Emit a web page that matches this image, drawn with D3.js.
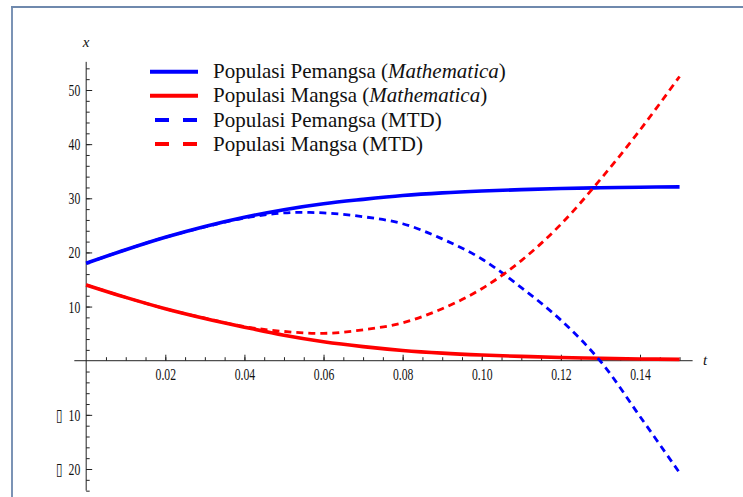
<!DOCTYPE html>
<html>
<head>
<meta charset="utf-8">
<script src="https://cdn.jsdelivr.net/npm/d3@7"></script>
<style>
  html, body { margin: 0; padding: 0; background: #fff; }
  svg { display: block; }
  text { font-family: "Liberation Serif", "Times New Roman", serif; fill: #111; }
</style>
</head>
<body>
<svg id="chart" width="743" height="497"></svg>
<script>
// ---- data ----
const tValues = [0, 0.01, 0.02, 0.03, 0.04, 0.05, 0.06, 0.07, 0.08, 0.09, 0.10, 0.11, 0.12, 0.13, 0.14, 0.15];
const predatorMathematica = [18.0, 20.5, 22.8, 24.8, 26.5, 27.9, 29.0, 29.8, 30.5, 31.0, 31.35, 31.6, 31.8, 31.95, 32.05, 32.1];
const preyMathematica     = [14.0, 11.7, 9.6, 7.8, 6.2, 4.7, 3.5, 2.6, 1.9, 1.4, 1.05, 0.8, 0.6, 0.45, 0.33, 0.25];
const predatorMTD         = [18.0, 20.5, 22.8, 24.7, 26.35, 27.3, 27.3, 26.6, 25.3, 22.5, 18.8, 13.5, 7.5, -0.1, -10.3, -20.7];
const preyMTD             = [14.0, 11.7, 9.6, 7.85, 6.3, 5.4, 5.05, 5.7, 7.0, 9.6, 13.3, 18.5, 25.2, 33.5, 42.6, 52.5];

const xMajorTicks = [0.02, 0.04, 0.06, 0.08, 0.10, 0.12, 0.14];
const xMinorTicks = d3.range(1, 31).map(i => +(i * 0.005).toFixed(3));
const yMajorTicks = [-20, -10, 10, 20, 30, 40, 50];
const yMinorTicks = d3.range(-24, 56, 2).filter(v => v !== 0);

const legendLabels = [
  ["Populasi Pemangsa (", "Mathematica", ")"],
  ["Populasi Mangsa (", "Mathematica", ")"],
  ["Populasi Pemangsa (MTD)", "", ""],
  ["Populasi Mangsa (MTD)", "", ""]
];

const series = [
  { values: predatorMathematica, color: "#0000ff", dashed: false },
  { values: preyMathematica,     color: "#ff0000", dashed: false },
  { values: predatorMTD,         color: "#0000ff", dashed: true },
  { values: preyMTD,             color: "#ff0000", dashed: true }
];

// ---- layout ----
const svg = d3.select("#chart");
const x = d3.scaleLinear().domain([0.02, 0.14]).range([165.3, 640]);
const y = d3.scaleLinear().domain([-20, 50]).range([469, 90]);
const X0 = x(0), Y0 = y(0);
const squeeze = 0.69;

// frame
svg.append("line").attr("x1", 12).attr("x2", 12).attr("y1", 6).attr("y2", 497)
  .attr("stroke", "#7b93b5").attr("stroke-width", 2);
svg.append("line").attr("x1", 11).attr("x2", 743).attr("y1", 7).attr("y2", 7)
  .attr("stroke", "#6f89ad").attr("stroke-width", 2);

// axes lines
const axisColor = "#222";
svg.append("line").attr("x1", x(-0.003)).attr("x2", x(0.1533)).attr("y1", Y0).attr("y2", Y0)
  .attr("stroke", axisColor).attr("stroke-width", 1);
svg.append("line").attr("x1", X0).attr("x2", X0).attr("y1", y(55.2)).attr("y2", y(-24))
  .attr("stroke", axisColor).attr("stroke-width", 1);

// x axis ticks
const gxMinor = svg.append("g").attr("transform", `translate(0,${Y0})`)
  .call(d3.axisBottom(x).tickValues(xMinorTicks).tickSizeInner(-3.5).tickSizeOuter(0).tickFormat(""));
const gx = svg.append("g").attr("transform", `translate(0,${Y0})`)
  .call(d3.axisBottom(x).tickValues(xMajorTicks).tickSizeInner(-6).tickSizeOuter(0)
    .tickPadding(7).tickFormat(d3.format(".2f")));
[gxMinor, gx].forEach(g => {
  g.select(".domain").remove();
  g.selectAll(".tick line").attr("stroke", axisColor);
});
gx.selectAll(".tick text")
  .attr("font-family", "Liberation Serif, serif").attr("font-size", 17).attr("fill", "#111")
  .attr("transform", `scale(${squeeze},1)`);

// y axis ticks
const gyMinor = svg.append("g").attr("transform", `translate(${X0},0)`)
  .call(d3.axisLeft(y).tickValues(yMinorTicks).tickSizeInner(-3.5).tickSizeOuter(0).tickFormat(""));
const gy = svg.append("g").attr("transform", `translate(${X0},0)`)
  .call(d3.axisLeft(y).tickValues(yMajorTicks).tickSizeInner(-6).tickSizeOuter(0)
    .tickPadding(8.5).tickFormat(d => d < 0 ? "\u25AF\u00A0\u00A0" + Math.abs(d) : String(d)));
[gyMinor, gy].forEach(g => {
  g.select(".domain").remove();
  g.selectAll(".tick line").attr("stroke", axisColor);
});
gy.selectAll(".tick text")
  .attr("font-family", "Liberation Serif, serif").attr("font-size", 17).attr("fill", "#111")
  .attr("transform", `scale(${squeeze},1)`);

// axis labels
svg.append("text").attr("x", X0).attr("y", 47).attr("text-anchor", "middle")
  .attr("font-size", 15).attr("font-style", "italic").text("x");
svg.append("text").attr("x", 705).attr("y", 365).attr("text-anchor", "middle")
  .attr("font-size", 15).attr("font-style", "italic").text("t");

// curves
const line = d3.line().x(d => x(d[0])).y(d => y(d[1])).curve(d3.curveCatmullRom.alpha(0.5));
series.forEach(s => {
  svg.append("path")
    .attr("d", line(tValues.map((t, i) => [t, s.values[i]])))
    .attr("fill", "none")
    .attr("stroke", s.color)
    .attr("stroke-width", s.dashed ? 2.8 : 3.6)
    .attr("stroke-dasharray", s.dashed ? "7,5" : null)
    .attr("stroke-linecap", "butt");
});

// legend
const legendRows = [71.7, 95.7, 120, 144];
series.forEach((s, i) => {
  const ry = legendRows[i];
  svg.append("line")
    .attr("x1", s.dashed ? 155 : 150).attr("x2", 198)
    .attr("y1", ry).attr("y2", ry)
    .attr("stroke", s.color).attr("stroke-width", 4)
    .attr("stroke-dasharray", s.dashed ? "14,14" : null);
  const t = svg.append("text").attr("x", 213).attr("y", ry + 6.5).attr("font-size", 21);
  const parts = legendLabels[i];
  t.append("tspan").text(parts[0]);
  if (parts[1]) t.append("tspan").attr("font-style", "italic").text(parts[1]);
  if (parts[2]) t.append("tspan").text(parts[2]);
});
</script>
</body>
</html>
